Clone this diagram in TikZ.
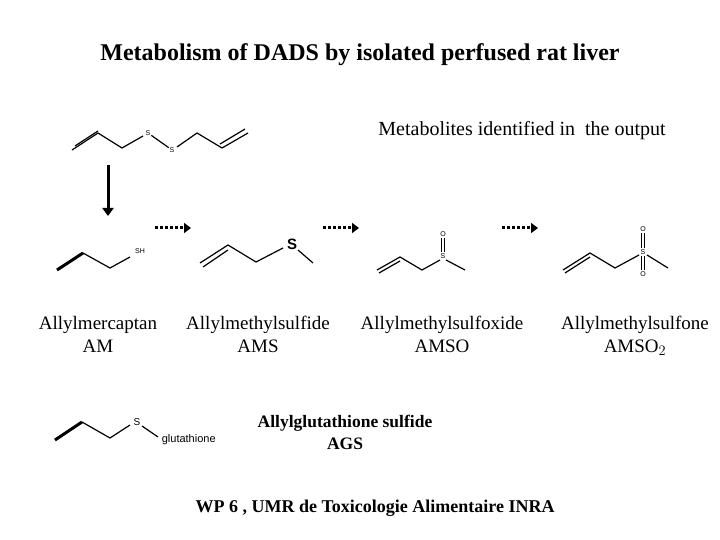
\documentclass[tikz,border=0pt]{standalone}
\usepackage{fontspec}
\setmainfont{Liberation Serif}
\setsansfont{Liberation Sans}
\usetikzlibrary{arrows.meta}
\begin{document}
\begin{tikzpicture}[x=1pt,y=-1pt,line width=1pt,
	bond/.style={line width=1.2pt},
	lbl/.style={font=\fontsize{19}{23}\selectfont,align=center,anchor=north},
	atom/.style={font=\sffamily\fontsize{7}{8}\selectfont,inner sep=0.5pt},
	dotarrow/.style={line width=3pt,dash pattern=on 3pt off 2pt,-{Triangle[length=7pt,width=10pt]}}]

	\useasboundingbox (0,0) rectangle (720,540);
	% titles
	\node[font=\bfseries\fontsize{24}{28}\selectfont] (title) at (360,55) {Metabolism of DADS by isolated perfused rat liver};
	\node[font=\fontsize{20}{24}\selectfont] (outlabel) at (522,131) {Metabolites identified in\ \ the output};

	% DADS
	\draw[bond] (72,150) -- (98,133) -- (122,148) -- (143,136);
	\draw[bond] (75,146) -- (98,131);
	\node[atom] (s1) at (148,133) {S};
	\node[atom] (s2) at (172,150) {S};
	\draw[bond] (s1) -- (s2);
	\draw[bond] (177,147) -- (197,133) -- (222,148) -- (248,133);
	\draw[bond] (220,144) -- (245,129);
	\coordinate (dadsbot) at (108,165);
	\coordinate (amtop) at (108,216);
	\draw[line width=3pt,-{Triangle[length=8pt,width=11pt]}] (dadsbot) -- (amtop);

	% AM
	\draw[line width=3pt] (57,270) -- (83,253);
	\draw[bond] (83,253) -- (110,268) -- (130,257);
	\node[atom] (sh) at (140,251) {SH};

	% dotted arrows
	\foreach \xa in {155,323,502}
		\draw[dotarrow] (\xa,228) -- ++(36,0);

	% AMS
	\draw[bond] (200,263) -- (228,245) -- (256,262) -- (283,248);
	\draw[bond] (203,267) -- (228,250);
	\node[font=\sffamily\bfseries\fontsize{15}{16}\selectfont,inner sep=0pt] (s3) at (292,244) {S};
	\draw[bond] (298,250) -- (313,263);

	% AMSO
	\draw[bond] (377,270) -- (400,257) -- (422,270) -- (440,260);
	\draw[bond] (379,273) -- (400,261);
	\node[atom] (s4) at (443,256) {S};
	\node[atom] (o1) at (443,234) {O};
	\draw[bond] (441.5,238) -- (441.5,252);
	\draw[bond] (444.5,238) -- (444.5,252);
	\draw[bond] (446,260) -- (465,270);

	% AMSO2
	\draw[bond] (563,270) -- (590,253) -- (615,268) -- (639,255);
	\draw[bond] (565,273) -- (590,257);
	\node[atom] (s5) at (643,252) {S};
	\node[atom] (o2) at (643,229) {O};
	\node[atom] (o3) at (643,274) {O};
	\foreach \dx in {-1.5,1.5} {
		\draw[bond] (643+\dx,233) -- (643+\dx,248);
		\draw[bond] (643+\dx,256) -- (643+\dx,270);
	}
	\draw[bond] (647,255) -- (668,268);

	% labels
	\node[lbl] (amlabel) at (98,312) {Allylmercaptan\\AM};
	\node[lbl] (amslabel) at (258,312) {Allylmethylsulfide\\AMS};
	\node[lbl] (amsolabel) at (442,312) {Allylmethylsulfoxide\\AMSO};
	\node[lbl] (amso2label) at (635,312) {Allylmethylsulfone\\AMSO$_2$};

	% AGS
	\draw[line width=3pt] (55,440) -- (82,422);
	\draw[bond] (82,422) -- (110,438) -- (130,425);
	\node[atom,font=\sffamily\fontsize{10}{11}\selectfont] (s6) at (137,422) {S};
	\draw[bond] (142,426) -- (158,437);
	\node[font=\sffamily\fontsize{11}{12}\selectfont,anchor=west] (glut) at (158,440) {glutathione};
	\node[lbl,font=\bfseries\fontsize{17.5}{22}\selectfont] (agslabel) at (345,411) {Allylglutathione sulfide\\AGS};

	\node[font=\bfseries\fontsize{18}{22}\selectfont] (wp) at (375,508) {WP 6 , UMR de Toxicologie Alimentaire INRA};
\end{tikzpicture}
\end{document}
